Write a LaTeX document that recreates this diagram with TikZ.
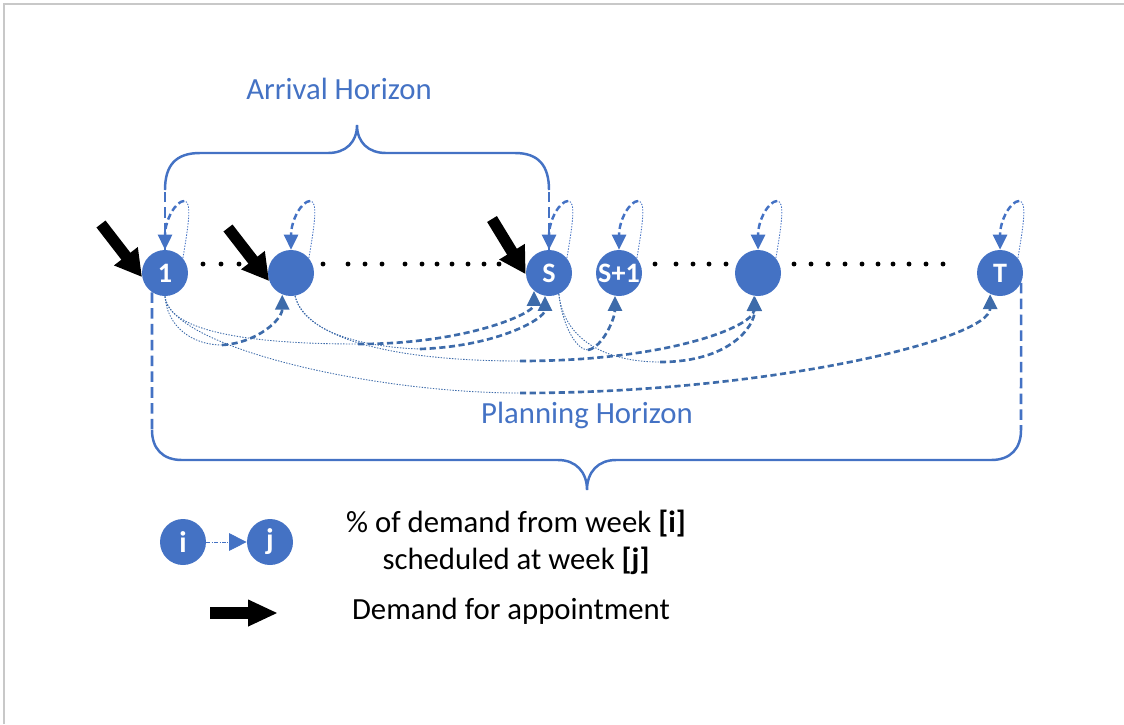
\documentclass[tikz,border=0pt]{standalone}
\usepackage{fontspec}
\setmainfont{Carlito}
\usetikzlibrary{arrows.meta}
\definecolor{wkblue}{HTML}{4472C4}
\definecolor{arcblue}{HTML}{3D6BAA}
\definecolor{framegray}{HTML}{C8C8C8}

\begin{document}
\begin{tikzpicture}[x=0.02cm, y=-0.02cm,
    week/.style={circle, fill=wkblue, minimum size=0.92cm, inner sep=0pt, text=white,
      font=\fontsize{16}{16}\selectfont\bfseries},
    lowdot/.style={arcblue, line width=0.5pt, dash pattern=on 0.8pt off 0.8pt},
    hidash/.style={arcblue, line width=1.5pt, dash pattern=on 3.5pt off 2pt,
      -{Triangle[length=8.5pt,width=8pt]}},
    loopdot/.style={wkblue, line width=0.5pt, dash pattern=on 0.8pt off 0.8pt},
    loopdash/.style={wkblue, line width=1.4pt, dash pattern=on 3.5pt off 2pt,
      -{Triangle[length=8.5pt,width=8pt]}},
    horizon/.style={wkblue, line width=1.4pt},
    span/.style={wkblue, line width=1.5pt, dash pattern=on 6pt off 3pt},
    demand/.style={black, line width=6.5pt, -{Triangle[length=15pt,width=16pt]}},
    lbl/.style={font=\fontsize{17.5}{21}\selectfont, align=center}
  ]
  \useasboundingbox (0,0) rectangle (1124,724);
  \draw[framegray, line width=0.8pt] (4,724) -- (4,4) -- (1124,4);

  % weeks
  \node[week] (n1)  at (165,273) {1};
  \node[week] (n2)  at (291,273) {};
  \node[week] (nS)  at (549,273) {S};
  \node[week] (nS1) at (619,273) {S+1};
  \node[week] (n5)  at (758,273) {};
  \node[week] (nT)  at (1000,273) {T};

  \foreach \x in {203,221,239, 323,348,365,382,405,422,437,452,468,484,499,515,
                  655,676,693,709,726, 794,811,828,845,862,878,893,909,926,943}
    \fill (\x,264) circle[radius=1.4pt];

  % self loops
  \foreach \n in {n1,n2,nS,nS1,n5,nT} {
    \coordinate (\n-top) at ([shift={(19,-72)}]\n.center);
    \draw[loopdot] (\n.40) .. controls +(6,-35) and +(8,0) .. (\n-top);
    \draw[loopdash] (\n-top) .. controls +(-8,0) and +(0,-30) .. (\n.north);
  }

  % braces
  \coordinate (ahL) at (165,190);
  \coordinate (ahR) at (549,190);
  \draw[horizon] (ahL) .. controls (165,165) and (176,153) .. (200,153) -- (328,153)
    .. controls (346,153) and (357,142) .. (357,125)
    .. controls (357,142) and (368,153) .. (386,153) -- (515,153)
    .. controls (538,153) and (549,165) .. (ahR);
  \coordinate (phL) at (152,430);
  \coordinate (phR) at (1021,430);
  \draw[horizon] (phL) .. controls (152,448) and (162,460) .. (182,460) -- (558,460)
    .. controls (576,460) and (587,472) .. (587,490)
    .. controls (587,472) and (598,460) .. (616,460) -- (991,460)
    .. controls (1011,460) and (1021,448) .. (phR);
  \draw[span] (n1.north) -- (ahL);
  \draw[span] (nS.north) -- (ahR);
  \draw[span] (n1.-124) -- (phL);
  \draw[span] (nT.-25) -- (phR);

  \node[lbl, text=wkblue] (arrival) at (339,89) {Arrival Horizon};
  \node[lbl, text=wkblue] (planning) at (587,415) {Planning Horizon};

  % demand
  \coordinate (d1) at (101,224);
  \coordinate (d2) at (228,228);
  \coordinate (dS) at (492,219);
  \draw[demand] (d1) -- (n1.190);
  \draw[demand] (d2) -- (n2.200);
  \draw[demand] (dS) -- (nS.183);

  % 1 -> 2, S, T
  \coordinate (m12) at (222,345);
  \draw[lowdot] (n1.south) .. controls +(2,30) and +(-30,0) .. (m12);
  \draw[hidash] (m12) .. controls +(35,-2) and +(0,25) .. (n2.-112);
  \coordinate (m1S) at (358,344);
  \draw[lowdot] (n1.south) .. controls +(3,35) and +(-110,0) .. (m1S);
  \draw[hidash] (m1S) .. controls +(110,0) and +(0,22) .. (nS.-130);
  \coordinate (m1T) at (520,393);
  \draw[lowdot] (n1.south) .. controls +(5,50) and +(-150,0) .. (m1T);
  \draw[hidash] (m1T) .. controls +(250,0) and +(0,45) .. (nT.-115);

  % 2 -> S, 5
  \coordinate (m2S) at (420,349);
  \draw[lowdot] (n2.-80) .. controls +(8,35) and +(-60,-2) .. (m2S);
  \draw[hidash] (m2S) .. controls +(80,-3) and +(0,22) .. (nS.-100);
  \coordinate (m25) at (520,361);
  \draw[lowdot] (n2.-80) .. controls +(12,45) and +(-120,0) .. (m25);
  \draw[hidash] (m25) .. controls +(150,0) and +(0,30) .. (n5.-100);

  % S -> S+1, 5
  \coordinate (mSS1) at (588,350);
  \draw[lowdot] (nS.-65) .. controls +(3,30) and +(-12,0) .. (mSS1);
  \draw[hidash] (mSS1) .. controls +(15,-3) and +(0,22) .. (nS1.-100);
  \coordinate (mS5) at (660,362);
  \draw[lowdot] (nS.-65) .. controls +(5,45) and +(-55,0) .. (mS5);
  \draw[hidash] (mS5) .. controls +(70,0) and +(0,30) .. (n5.-98);

  % legend
  \node[week, font=\fontsize{17}{17}\selectfont\bfseries] (li) at (183,542) {i};
  \node[week, font=\fontsize{17}{17}\selectfont\bfseries] (lj) at (270,542) {j};
  \draw[wkblue, line width=0.5pt, dash pattern=on 2pt off 1pt on 0.5pt off 1pt,
    -{Triangle[length=10pt,width=10pt]}] (li) -- (lj);
  \node[lbl] (legtxt) at (516,542) {\% of demand from week \textbf{[i]}\\scheduled at week \textbf{[j]}};
  \coordinate (ld) at (210,613);
  \coordinate (ldend) at (278,613);
  \draw[black, line width=6.8pt, -{Triangle[length=17pt,width=14pt]}] (ld) -- (ldend);
  \node[lbl] (demtxt) at (511,611) {Demand for appointment};
\end{tikzpicture}
\end{document}
